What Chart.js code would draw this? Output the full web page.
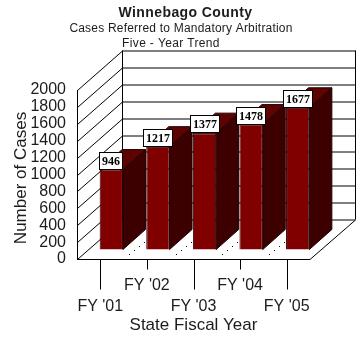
<!DOCTYPE html>
<html><head><meta charset="utf-8">
<style>html,body{margin:0;padding:0;background:#fff}#w{width:358px;height:356px}</style>
<script src="https://cdn.jsdelivr.net/npm/chart.js@4"></script></head>
<body><div id="w"><canvas id="c" width="358" height="356"></canvas></div>
<script>
const categories = ["FY '01","FY '02","FY '03","FY '04","FY '05"];
const caseCounts = [946,1217,1377,1478,1677];
const yTicks = [0,200,400,600,800,1000,1200,1400,1600,1800,2000];
const titleLine = "Winnebago County";
const subtitleLines = ["Cases Referred to Mandatory Arbitration","Five - Year Trend"];
const yAxisTitle = "Number of Cases";
const xAxisTitle = "State Fiscal Year";

const DEPTH = {dx:45, dy:-39.5};
const BAR = {dx:22.5, dy:-20, ox:11, oy:-9.5};
const INK = '#1c1c1c';

const box3d = {
  id:'box3d',
  beforeDatasetsDraw(chart){
    const {ctx, scales:{x,y}, chartArea:a} = chart;
    ctx.save();
    ctx.strokeStyle = '#000'; ctx.lineWidth = 1;
    const line=(x1,y1,x2,y2)=>{ctx.beginPath();ctx.moveTo(x1,y1);ctx.lineTo(x2,y2);ctx.stroke();};
    yTicks.forEach(v=>{
      const p = Math.round(y.getPixelForValue(v))+.5;
      line(a.left+.5,p,a.left+DEPTH.dx+.5,p+DEPTH.dy);
      line(a.left+DEPTH.dx+.5,p+DEPTH.dy,a.right+DEPTH.dx+.5,p+DEPTH.dy);
    });
    const top=y.getPixelForValue(2000), bot=y.getPixelForValue(0);
    line(a.left+.5,top,a.left+.5,bot);
    line(a.left+DEPTH.dx+.5,top+DEPTH.dy,a.left+DEPTH.dx+.5,bot+DEPTH.dy);
    line(a.right+DEPTH.dx+.5,top+DEPTH.dy,a.right+DEPTH.dx+.5,bot+DEPTH.dy);
    // floor edges
    const bp=Math.round(bot)+.5;
    line(a.left,bp,a.right,bp);
    line(a.right,bp,a.right+DEPTH.dx+.5,bp+DEPTH.dy);
    // alternating ticks below the axis
    categories.forEach((c,i)=>{
      const px=Math.round(x.getPixelForTick(i))+.5;
      line(px,bp,px,bp+(i%2?10:30));
    });
    // floor dots
    ctx.fillStyle='#111';
    categories.slice(0,-1).forEach((c,i)=>{
      const r=chart.getDatasetMeta(0).data[i];
      const ex=r.x+r.width/2+BAR.ox, base=y.getPixelForValue(0)+BAR.oy;
      for(let k=0;k<4;k++) ctx.fillRect(Math.round(ex+6+k*5),Math.round(base+4-k*4),1,1);
    });
    // bar side and top faces
    const meta=chart.getDatasetMeta(0);
    meta.data.forEach(r=>{
      const l=r.x-r.width/2+BAR.ox, rt=r.x+r.width/2+BAR.ox, t=r.y+BAR.oy, b=r.base+BAR.oy;
      ctx.fillStyle='#3c0000'; ctx.strokeStyle='#1f0000';
      ctx.beginPath();ctx.moveTo(rt,t);ctx.lineTo(rt+BAR.dx,t+BAR.dy);ctx.lineTo(rt+BAR.dx,b+BAR.dy);ctx.lineTo(rt,b);ctx.closePath();ctx.fill();ctx.stroke();
      ctx.fillStyle='#5e0202';
      ctx.beginPath();ctx.moveTo(l,t);ctx.lineTo(l+BAR.dx,t+BAR.dy);ctx.lineTo(rt+BAR.dx,t+BAR.dy);ctx.lineTo(rt,t);ctx.closePath();ctx.fill();ctx.stroke();
    });
    ctx.restore();
  },
  beforeDatasetDraw(chart){ chart.ctx.save(); chart.ctx.translate(BAR.ox,BAR.oy); },
  afterDatasetDraw(chart){ chart.ctx.restore(); },
  afterDatasetsDraw(chart){
    const {ctx}=chart;
    ctx.save();
    ctx.font='bold 12px "Liberation Serif"';
    ctx.textAlign='center'; ctx.textBaseline='middle';
    chart.getDatasetMeta(0).data.forEach((r,i)=>{
      const s=String(caseCounts[i]), w=ctx.measureText(s).width+6, h=18;
      const cx=r.x+BAR.ox, bt=r.y+BAR.oy;
      const bx=Math.round(cx-w/2), by=Math.round(bt-h);
      ctx.fillStyle='#fff'; ctx.strokeStyle='#000'; ctx.lineWidth=1;
      ctx.fillRect(bx,by,Math.round(w),h);
      ctx.strokeRect(bx+.5,by+.5,Math.round(w)-1,h-1);
      ctx.fillStyle='#000';
      ctx.fillText(s,bx+Math.round(w)/2,by+h/2+.5);
    });
    ctx.restore();
  },
  afterDraw(chart){
    const {ctx}=chart;
    ctx.save();
    ctx.fillStyle=INK; ctx.textAlign='center'; ctx.textBaseline='middle';
    ctx.font='bold 14px "Liberation Sans"'; ctx.letterSpacing='0.4px';
    ctx.fillText(titleLine,185.5,13);
    ctx.font='12px "Liberation Sans"'; ctx.letterSpacing='0.2px';
    ctx.fillText(subtitleLines[0],181,29);
    ctx.letterSpacing='0.35px';
    ctx.fillText(subtitleLines[1],171,44);
    ctx.letterSpacing='0px';
    ctx.translate(21,178); ctx.rotate(-Math.PI/2);
    ctx.font='17px "Liberation Sans"';
    ctx.fillText(yAxisTitle,0,0);
    ctx.restore();
  }
};

new Chart(document.getElementById('c'),{
  type:'bar',
  data:{labels:categories,datasets:[{label:'Cases',data:caseCounts,backgroundColor:'#800000',borderColor:'#2a0000',borderWidth:1,barPercentage:.5,categoryPercentage:1,clip:false}]},
  plugins:[box3d],
  options:{
    responsive:false,animation:false,
    layout:{padding:{top:90,right:48,left:0,bottom:0}},
    plugins:{legend:{display:false},tooltip:{enabled:false},title:{display:false}},
    scales:{
      x:{
        type:'category',
        afterFit(s){s.height=97;},
        grid:{display:false},border:{display:false},
        ticks:{autoSkip:false,maxRotation:0,minRotation:0,color:INK,padding:8,
          font:{family:'"Liberation Sans"',size:16,lineHeight:1.3},
          callback(v,i){const l=this.getLabelForValue(v);return i%2?[l]:['',l];}},
        title:{display:true,text:xAxisTitle,color:INK,font:{family:'"Liberation Sans"',size:17},padding:{top:0,bottom:20}}
      },
      y:{
        min:0,max:2000,
        afterFit(s){s.width=77;},
        afterBuildTicks(s){s.ticks=yTicks.map(v=>({value:v}));},
        grid:{display:false},border:{display:false},
        ticks:{autoSkip:false,color:INK,padding:3,font:{family:'"Liberation Sans"',size:16},callback:v=>String(v)}
      }
    }
  }
});
</script></body></html>
